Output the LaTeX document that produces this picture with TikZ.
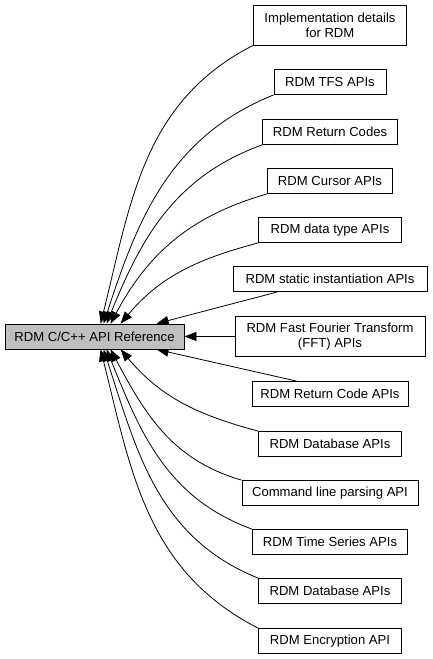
\documentclass[tikz,border=0pt]{standalone}
\usepackage{fontspec}
\setmainfont{Liberation Sans}
\usepackage{tikz}
\usetikzlibrary{arrows.meta}
\pgfdeclarelayer{bg}
\pgfsetlayers{bg,main}
\tikzset{
    every node/.style={rectangle, draw, line width=0.8pt, inner sep=0mm, minimum height=25pt, align=center, font=\fontsize{13.1}{15}\selectfont}
}
\tikzset{link/.style={{Triangle[length=12pt, width=9pt]}-, line width=0.8pt}}

\begin{document}
\begin{tikzpicture}[x=1pt, y=1pt]
        \useasboundingbox (0,-659) rectangle (432,0);
        \node (v0) [fill=gray!50, minimum width=179pt] at (94.5, -336.5) {RDM C/C++ API Reference};
        \node (v1) [minimum width=153pt, minimum height=40pt] at (330, -25) {Implementation details\\for RDM};
        \node (v2) [minimum width=112pt] at (330, -82) {RDM TFS APIs};
        \node (v3) [minimum width=135pt] at (330, -132) {RDM Return Codes};
        \node (v4) [minimum width=125pt] at (330, -181) {RDM Cursor APIs};
        \node (v5) [minimum width=143pt] at (330, -230) {RDM data type APIs};
        \node (v6) [minimum width=194pt] at (330, -279) {RDM static instantiation APIs};
        \node (v7) [minimum width=190pt, minimum height=40pt] at (330, -336.5) {RDM Fast Fourier Transform\\(FFT) APIs};
        \node (v8) [minimum width=156pt] at (330, -394) {RDM Return Code APIs};
        \node (v9) [minimum width=143pt] at (330, -444) {RDM Database APIs};
        \node (v10) [minimum width=176pt] at (330, -493) {Command line parsing API};
        \node (v11) [minimum width=155pt] at (330, -542) {RDM Time Series APIs};
        \node (v12) [minimum width=143pt] at (330, -591) {RDM Database APIs};
        \node (v13) [minimum width=143pt] at (330, -641) {RDM Encryption API};
        \begin{pgfonlayer}{bg}
                \draw ([xshift=96pt]v0.north west) edge [link, out=76, in=207] (v1.south west);
                \draw ([xshift=99pt]v0.north west) edge [link, out=72, in=202] (v2.south west);
                \draw ([xshift=102pt]v0.north west) edge [link, out=68, in=200] (v3.south west);
                \draw ([xshift=106pt]v0.north west) edge [link, out=62, in=196] (v4.south west);
                \draw ([xshift=116pt]v0.north west) edge [link, out=50, in=195] (v5.south west);
                \draw ([xshift=152pt]v0.north west) edge [link] ([xshift=45pt]v6.south west);
                \draw (v0) edge [link] (v7);
                \draw ([xshift=152pt]v0.south west) edge [link] ([xshift=45pt]v8.north west);
                \draw ([xshift=116pt]v0.south west) edge [link, out=-50, in=165] (v9.north west);
                \draw ([xshift=106pt]v0.south west) edge [link, out=-62, in=164] (v10.north west);
                \draw ([xshift=102pt]v0.south west) edge [link, out=-68, in=160] (v11.north west);
                \draw ([xshift=99pt]v0.south west) edge [link, out=-72, in=158] (v12.north west);
                \draw ([xshift=96pt]v0.south west) edge [link, out=-76, in=153] (v13.north west);
        \end{pgfonlayer}
\end{tikzpicture}
\end{document}
